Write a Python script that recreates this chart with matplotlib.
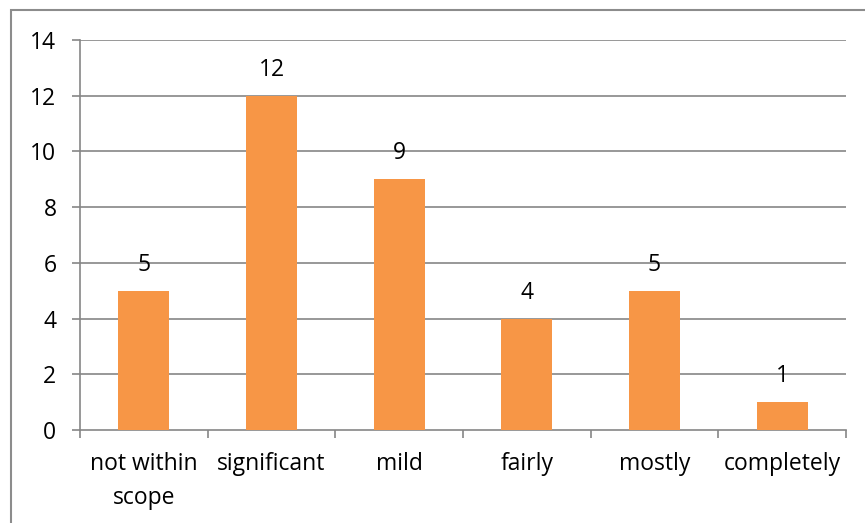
import matplotlib
matplotlib.use("Agg")
import matplotlib.pyplot as plt
from matplotlib.patches import Rectangle

categories = ["not within\nscope", "significant", "mild", "fairly", "mostly", "completely"]
values = [5, 12, 9, 4, 5, 1]
y_ticks = [0, 2, 4, 6, 8, 10, 12, 14]

plt.rcParams["font.family"] = ["Open Sans", "DejaVu Sans"]
FS = 16.5

W, H = 865, 523
fig = plt.figure(figsize=(W / 100, H / 100), dpi=100)

# plot area in pixel coordinates
left, right, top, bottom = 80, 846, 40, 430
ax = fig.add_axes([left / W, 1 - bottom / H, (right - left) / W, (bottom - top) / H])

grid_col = "#868686"
bar_col = "#F79646"

x = list(range(len(categories)))
ax.bar(x, values, width=0.4, color=bar_col, zorder=3)
for xi, v in zip(x, values):
    ax.annotate(str(v), (xi, v), xytext=(0, 10), textcoords="offset points",
                ha="center", va="bottom", fontsize=FS, color="black")

ax.set_xlim(-0.5, len(categories) - 0.5)
ax.set_ylim(0, 14)
ax.set_yticks(y_ticks)
ax.set_yticklabels([str(t) for t in y_ticks], fontsize=FS)
for t in y_ticks[1:]:
    ax.axhline(t, color=grid_col, lw=1.2, zorder=1)

# category boundary ticks on the x axis
ax.set_xticks([i - 0.5 for i in range(len(categories) + 1)])
ax.set_xticklabels([])
ax.set_xticks(x, minor=True)
ax.set_xticklabels(categories, minor=True, fontsize=FS, linespacing=1.55)
ax.tick_params(axis="x", which="minor", length=0, pad=16)
ax.tick_params(axis="x", which="major", length=6, color=grid_col, width=1.2)
ax.tick_params(axis="y", length=6, color=grid_col, width=1.2, pad=11)

for s in ["top", "right"]:
    ax.spines[s].set_visible(False)
for s in ["left", "bottom"]:
    ax.spines[s].set_color(grid_col)
    ax.spines[s].set_linewidth(1.2)

# chart border, open at the right and bottom edges
fig.patches.append(Rectangle((11 / W, -0.1), 1.2, 1.1 - 10.5 / H,
                             transform=fig.transFigure, fill=False,
                             edgecolor="#8c8c8c", lw=1.5))

fig.savefig("out.png", dpi=100)
